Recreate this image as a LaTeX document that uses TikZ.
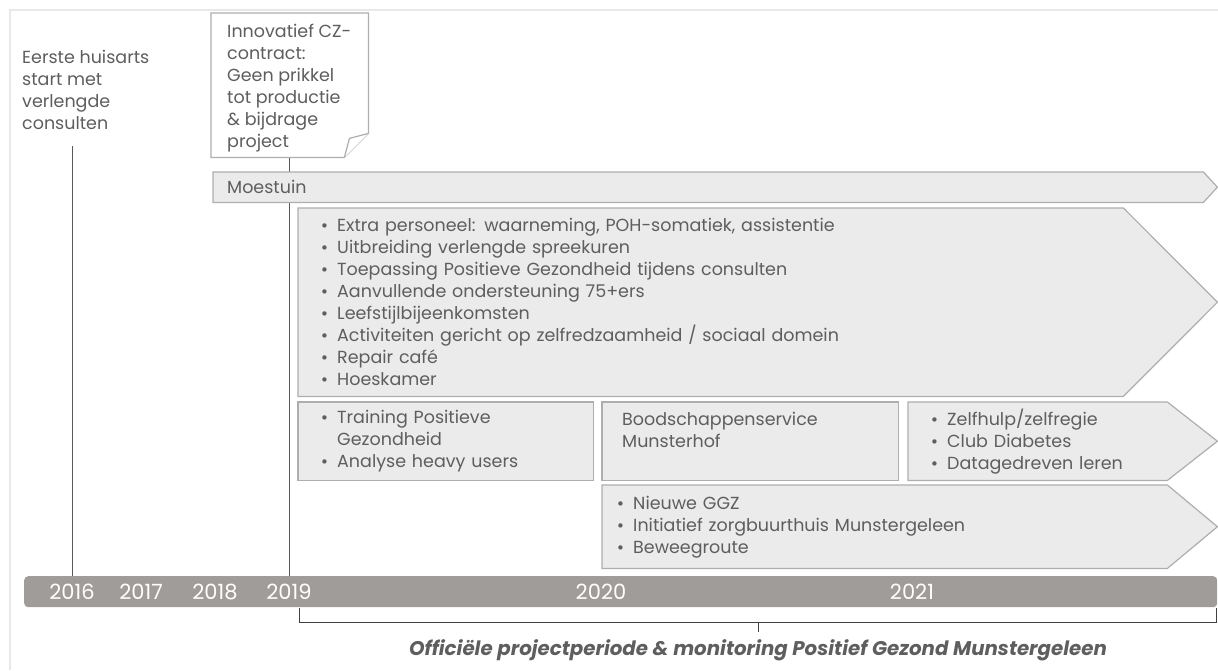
\documentclass[tikz,border=0pt]{standalone}
\usepackage{fontspec}
\setmainfont{Poppins}
\newfontfamily\symf{DejaVu Sans}
\usetikzlibrary{calc}
\definecolor{txt}{HTML}{5E5E5E}
\definecolor{boxfill}{HTML}{EBEBEB}
\definecolor{boxline}{HTML}{AEAEAE}
\definecolor{linec}{HTML}{595959}
\definecolor{framec}{HTML}{E8E8E8}
\definecolor{barc}{HTML}{A09C9A}
\definecolor{bracec}{HTML}{404040}
\newcommand\bodyf{\fontsize{17.5}{22}\selectfont}
\newcommand\yearf{\fontsize{21}{21}\selectfont}
\newcommand\capf{\fontsize{19.8}{22}\selectfont\bfseries\itshape}
\newcommand\bul{\makebox[17pt][l]{\raisebox{0pt}{\symf\fontsize{15}{15}\selectfont •}}}
\newcommand\ind{\hspace*{17pt}}
\pgfdeclarelayer{lines}
\pgfdeclarelayer{shapes}
\pgfsetlayers{lines,shapes,main}
\begin{document}
\begin{tikzpicture}[x=1pt,y=-1pt,
  every node/.style={text=txt, font=\bodyf},
  boxtxt/.style={anchor=north west, inner ysep=0pt, align=left},
  boxshape/.style={fill=boxfill, draw=boxline, line width=1.2pt, line join=miter},
  noteshape/.style={fill=white, draw=boxline, line width=1.2pt, line join=miter},
  conn/.style={draw=linec, line width=1pt},
  bracestyle/.style={draw=bracec, line width=1pt},
  yearlbl/.style={text=white, font=\yearf, inner sep=0pt}]
\useasboundingbox (0,0) rectangle (1218,670);
\draw[framec, line width=2pt] (10,670) -- (10,10) -- (1218,10);

% left label
\node[anchor=west, align=left, inner sep=0pt] (eerste) at (22,89.5) {Eerste huisarts\\start met\\verlengde\\consulten};
\coordinate (eersteend) at (72,146);

% note
\node[anchor=north west, inner sep=0pt, minimum width=157pt, minimum height=144pt] (note) at (211,13) {};
\node[anchor=west, align=left, inner sep=0pt] (notetxt) at (227,88)
  {Innovatief CZ-\\contract:\\Geen prikkel\\tot productie\\\& bijdrage\\project};

% boxes
\node[boxtxt, inner xsep=14pt, text width=976pt, minimum height=30pt] (moes) at (213,172) {Moestuin};
\node[boxtxt, inner xsep=22pt, text width=875pt, minimum height=188pt] (big) at (298,208)
  {\bul Extra personeel: waarneming, POH-somatiek, assistentie\\
   \bul Uitbreiding verlengde spreekuren\\
   \bul Toepassing Positieve Gezondheid tijdens consulten\\
   \bul Aanvullende ondersteuning 75+ers\\
   \bul Leefstijlbijeenkomsten\\
   \bul Activiteiten gericht op zelfredzaamheid / sociaal domein\\
   \bul Repair café\\
   \bul Hoeskamer};
\node[boxtxt, inner xsep=22pt, text width=251pt, minimum height=78pt] (train) at (298,402)
  {\bul Training Positieve\\\ind Gezondheid\\\bul Analyse heavy users};
\node[boxtxt, inner xsep=20pt, text width=256pt, minimum height=78pt] (boods) at (602,402)
  {Boodschappenservice\\Munsterhof\\\mbox{}};
\node[boxtxt, inner xsep=22pt, text width=265pt, minimum height=78pt] (zelf) at (908,402)
  {\bul Zelfhulp/zelfregie\\\bul Club Diabetes\\\bul Datagedreven leren};
\node[boxtxt, inner xsep=14pt, text width=587pt, minimum height=83pt] (ggz) at (602,485)
  {\bul Nieuwe GGZ\\\bul Initiatief zorgbuurthuis Munstergeleen\\\bul Beweegroute};

% year bar
\node[anchor=north west, inner sep=0pt, minimum width=1193pt, minimum height=31pt,
      fill=barc, rounded corners=4pt] (bar) at (24,576) {};
\node[yearlbl] (y16) at (72,592) {2016};
\node[yearlbl] (y17) at (141,592) {2017};
\node[yearlbl] (y18) at (215,592) {2018};
\node[yearlbl] (y19) at (289,592) {2019};
\node[yearlbl] (y20) at (601,592) {2020};
\node[yearlbl] (y21) at (912,592) {2021};

% bracket + caption
\coordinate (brL) at (299,608);
\coordinate (brR) at (1216,608);
\coordinate (brM) at (758,622);
\coordinate (brT) at (758,632);
\draw[bracestyle] (brL) -- (brL |- brM) -- (brR |- brM) -- (brR);
\draw[bracestyle] (brM) -- (brT);
\node[font=\capf] (cap) at (758,650) {Officiële projectperiode \& monitoring Positief Gezond Munstergeleen};

\begin{pgfonlayer}{shapes}
\path[noteshape] (note.north west) -- (note.north east) -- ($(note.south east)+(0,-24)$)
   -- ($(note.south east)+(-24,0)$) -- (note.south west) -- cycle;
\draw[noteshape] ($(note.south east)+(-24,0)$) -- ($(note.south east)+(-19,-19)$) -- ($(note.south east)+(0,-24)$);
\path[boxshape] (moes.north west) -- ($(moes.north east)+(-14,0)$) -- (moes.east)
   -- ($(moes.south east)+(-14,0)$) -- (moes.south west) -- cycle;
\path[boxshape] (big.north west) -- ($(big.north east)+(-94,0)$) -- (big.east)
   -- ($(big.south east)+(-94,0)$) -- (big.south west) -- cycle;
\path[boxshape] (train.north west) rectangle (train.south east);
\path[boxshape] (boods.north west) rectangle (boods.south east);
\path[boxshape] (zelf.north west) -- ($(zelf.north east)+(-50,0)$) -- (zelf.east)
   -- ($(zelf.south east)+(-50,0)$) -- (zelf.south west) -- cycle;
\path[boxshape] (ggz.north west) -- ($(ggz.north east)+(-50,0)$) -- (ggz.east)
   -- ($(ggz.south east)+(-50,0)$) -- (ggz.south west) -- cycle;
\end{pgfonlayer}

\begin{pgfonlayer}{lines}
\draw[conn] (eersteend) -- (eersteend |- bar.north);
\draw[conn] (note.south) -- (note.south |- bar.north);
\end{pgfonlayer}
\end{tikzpicture}
\end{document}
